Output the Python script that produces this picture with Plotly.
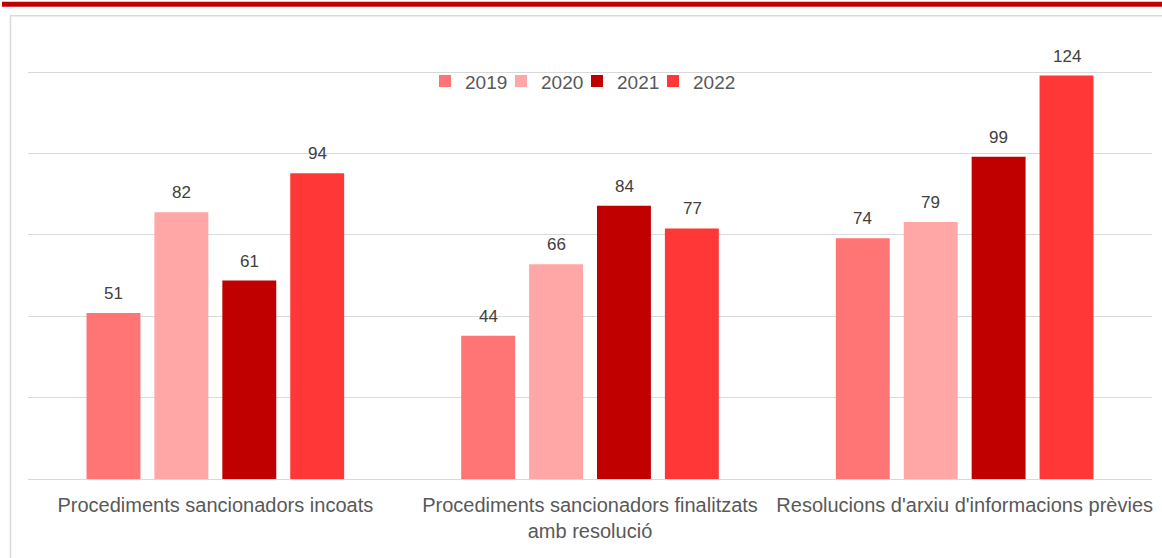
import plotly.graph_objects as go

categories = ["Procediments sancionadors incoats",
              "Procediments sancionadors finalitzats<br>amb resolució",
              "Resolucions d'arxiu d'informacions prèvies"]
years = ["2019", "2020", "2021", "2022"]
values = {
    "2019": [51, 44, 74],
    "2020": [82, 66, 79],
    "2021": [61, 84, 99],
    "2022": [94, 77, 124],
}
colors = {"2019": "#FF7575", "2020": "#FFA7A7", "2021": "#C00000", "2022": "#FF3737"}

FONT = "Liberation Sans, Arial, sans-serif"
BAR_PITCH = 68  # px between bar centres inside a group

fig = go.Figure()
for y in years:
    fig.add_trace(go.Bar(
        x=categories, y=values[y], name=y,
        marker=dict(color=colors[y], line=dict(width=0)),
    ))
# invisible spacer entry so the last legend label is not clipped
fig.add_trace(go.Scatter(x=[None], y=[None], mode="markers", name=" ",
                         marker=dict(color="rgba(0,0,0,0)", size=1,
                                     line=dict(width=0, color="rgba(0,0,0,0)")),
                         hoverinfo="skip"))

annotations = []
for i, y in enumerate(years):
    for c, v in zip(categories, values[y]):
        annotations.append(dict(
            x=c, y=v, xref="x", yref="y", text=str(v), showarrow=False,
            xanchor="center", yanchor="bottom",
            xshift=(i - 1.5) * BAR_PITCH, yshift=8,
            font=dict(size=17, color="#404040", family=FONT),
        ))

W, H = 1162, 558
L, R, B = 28, 10, 79
YMAX = 126
T = H - B - (H - B - 72) / 125 * YMAX
pw, ph = W - L - R, H - T - B

def px(x):
    return (x - L) / pw

def py(y):
    return (H - B - y) / ph

fig.update_layout(
    width=W, height=H,
    margin=dict(l=L, r=R, t=T, b=B, pad=0),
    paper_bgcolor="white", plot_bgcolor="white",
    barmode="group", bargap=0.275, bargroupgap=0.206,
    font=dict(family=FONT, size=20, color="#595959"),
    showlegend=True,
    legend=dict(orientation="h", x=px(425), xanchor="left", y=py(81), yanchor="middle",
                font=dict(size=19, color="#595959"), bgcolor="rgba(0,0,0,0)",
                entrywidth=31, entrywidthmode="pixels", itemwidth=30, tracegroupgap=0),
    xaxis=dict(showgrid=False, showline=True, linecolor="#D9D9D9", linewidth=1,
               ticks="", tickfont=dict(size=20, color="#595959"), ticklabelstandoff=8),
    yaxis=dict(range=[0, YMAX], dtick=25, showgrid=True, gridcolor="#D9D9D9", gridwidth=1,
               showticklabels=False, zeroline=False, showline=False),
    annotations=annotations,
    shapes=[
        dict(type="line", xref="paper", yref="paper", x0=px(2), x1=px(1162), y0=py(4), y1=py(4),
             line=dict(color="#C00000", width=5)),
        dict(type="line", xref="paper", yref="paper", x0=px(10), x1=px(1162), y0=py(15.5), y1=py(15.5),
             line=dict(color="#D9D9D9", width=1.5)),
        dict(type="line", xref="paper", yref="paper", x0=px(10.5), x1=px(10.5), y0=py(15), y1=py(558),
             line=dict(color="#D9D9D9", width=1.5)),
    ],
)

fig.write_html("out.html", config={"displayModeBar": False},
               post_script="document.body.style.margin='0';document.body.style.padding='0';")
